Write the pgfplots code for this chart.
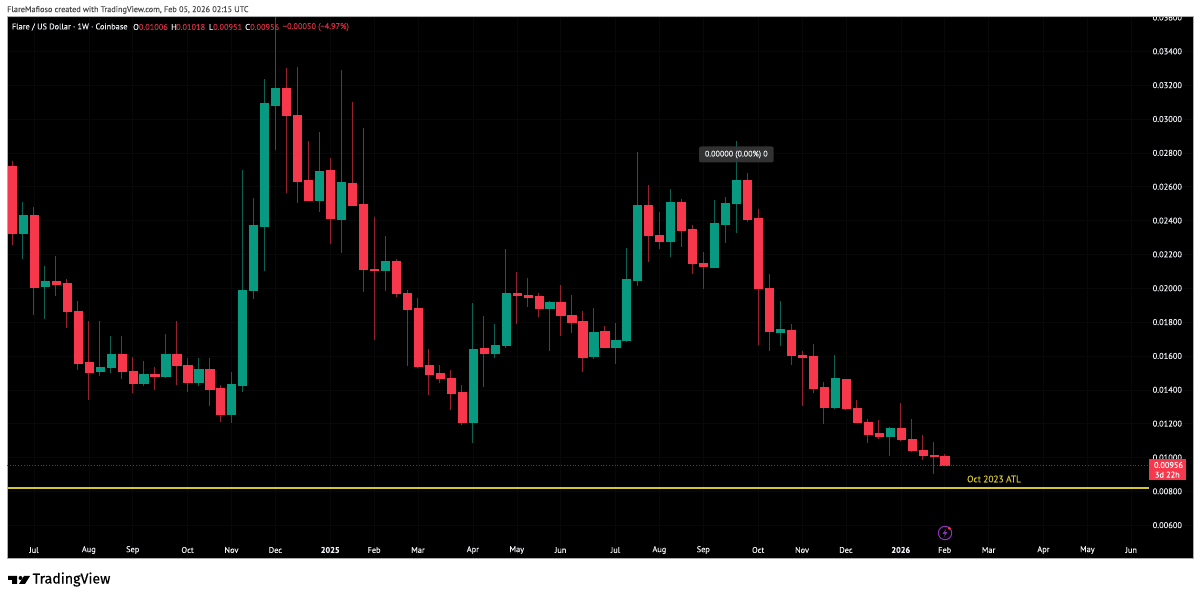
\documentclass[border=0pt]{standalone}
\usepackage{fontspec}
\setmainfont[FakeBold=0.15]{PT Sans}
\newfontfamily\tvf[FakeBold=0.4]{Fira Sans}
\usepackage{pgfplots}
\usepackage{pgfplotstable}
\usepgfplotslibrary{statistics}
\pgfplotsset{compat=1.18}
\definecolor{cup}{HTML}{089981}
\definecolor{cdn}{HTML}{F7374C}
\definecolor{wup}{HTML}{0A6255}
\definecolor{wdn}{HTML}{96222F}
\definecolor{atl}{HTML}{D6C62C}
\definecolor{lbl}{HTML}{EEF0F4}
\definecolor{icon}{HTML}{8E2FBF}
\pgfplotstableread{
i o h l c
0 0.02719 0.02752 0.02254 0.02325
2 0.02433 0.02482 0.01844 0.02009
4 0.02041 0.02189 0.01956 0.02027
5 0.02030 0.02053 0.01767 0.01866
6 0.01866 0.01925 0.01519 0.01560
7 0.01564 0.01808 0.01342 0.01504
10 0.01610 0.01720 0.01462 0.01509
11 0.01509 0.01596 0.01381 0.01439
13 0.01492 0.01537 0.01399 0.01483
15 0.01610 0.01805 0.01427 0.01547
16 0.01548 0.01588 0.01389 0.01448
18 0.01525 0.01586 0.01306 0.01407
19 0.01409 0.01428 0.01212 0.01257
25 0.03182 0.03300 0.02561 0.03026
26 0.03024 0.03308 0.02502 0.02634
27 0.02636 0.02872 0.02518 0.02520
29 0.02697 0.02772 0.02262 0.02417
31 0.02621 0.03099 0.02491 0.02491
32 0.02496 0.02947 0.01978 0.02114
33 0.02114 0.02423 0.01694 0.02109
35 0.02161 0.02173 0.01950 0.01970
36 0.01970 0.01988 0.01541 0.01879
37 0.01882 0.01944 0.01529 0.01543
38 0.01548 0.01641 0.01371 0.01495
39 0.01498 0.01548 0.01442 0.01466
40 0.01468 0.01517 0.01279 0.01383
41 0.01385 0.01428 0.01194 0.01210
43 0.01645 0.01836 0.01415 0.01619
46 0.01972 0.02096 0.01787 0.01959
47 0.01960 0.02059 0.01888 0.01950
48 0.01954 0.01972 0.01832 0.01885
50 0.01917 0.02019 0.01720 0.01838
51 0.01840 0.01960 0.01738 0.01799
52 0.01805 0.01864 0.01507 0.01594
54 0.01746 0.01777 0.01651 0.01651
58 0.02492 0.02612 0.02157 0.02313
59 0.02313 0.02451 0.02232 0.02280
61 0.02512 0.02528 0.02244 0.02346
62 0.02349 0.02372 0.02083 0.02149
63 0.02149 0.02215 0.01998 0.02128
67 0.02636 0.02683 0.02394 0.02411
68 0.02417 0.02469 0.01663 0.02002
69 0.02002 0.02084 0.01631 0.01746
71 0.01754 0.01789 0.01548 0.01602
72 0.01604 0.01628 0.01303 0.01594
73 0.01600 0.01669 0.01383 0.01411
74 0.01417 0.01448 0.01198 0.01300
76 0.01462 0.01464 0.01279 0.01294
77 0.01293 0.01340 0.01204 0.01210
78 0.01212 0.01228 0.01084 0.01139
79 0.01141 0.01220 0.01108 0.01129
81 0.01176 0.01320 0.01099 0.01108
82 0.01109 0.01226 0.01038 0.01040
83 0.01044 0.01133 0.00983 0.01015
84 0.01013 0.01092 0.00902 0.01005
85 0.01006 0.01018 0.00951 0.00956
}\reddata
\pgfplotstableread{
i o h l c
1 0.02329 0.02512 0.02173 0.02433
3 0.02012 0.02132 0.01820 0.02041
8 0.01507 0.01808 0.01483 0.01537
9 0.01537 0.01720 0.01501 0.01613
12 0.01442 0.01570 0.01423 0.01495
14 0.01483 0.01730 0.01470 0.01610
17 0.01448 0.01588 0.01424 0.01525
20 0.01255 0.01504 0.01202 0.01433
21 0.01430 0.02699 0.01389 0.01990
22 0.01986 0.02534 0.01937 0.02372
23 0.02370 0.03237 0.02104 0.03093
24 0.03083 0.03620 0.02817 0.03185
28 0.02522 0.02920 0.02451 0.02693
30 0.02411 0.03288 0.02210 0.02626
34 0.02108 0.02309 0.01984 0.02161
42 0.01210 0.01913 0.01086 0.01641
44 0.01619 0.01787 0.01588 0.01665
45 0.01667 0.02230 0.01649 0.01972
49 0.01884 0.01925 0.01629 0.01919
53 0.01596 0.01884 0.01582 0.01742
55 0.01651 0.01795 0.01551 0.01696
56 0.01694 0.02236 0.01684 0.02053
57 0.02051 0.02804 0.02015 0.02488
60 0.02280 0.02589 0.02183 0.02512
64 0.02126 0.02524 0.02126 0.02384
65 0.02380 0.02540 0.02268 0.02504
66 0.02502 0.02871 0.02327 0.02636
70 0.01743 0.01925 0.01659 0.01759
75 0.01300 0.01606 0.01288 0.01468
80 0.01127 0.01178 0.01009 0.01176
}\greendata
\pgfplotsset{
  candle/.style n args={2}{
    forget plot, solid, mark=none,
    boxplot/draw direction=y,
    boxplot/box extend=0.747, boxplot/whisker extend=0,
    boxplot/every box/.style={draw=#1, fill=#1, line width=0.2pt},
    boxplot/every whisker/.style={draw=#2, line width=1pt},
    boxplot/every median/.style={draw=none},
  },
}
% one candle per table row: the axis runs in US cents (price times 100);
% whiskers are the wicks, the box the body
\newcommand\drawcandles[4]{% table, last row, body colour, wick colour
  \pgfplotsforeachungrouped \k in {0,...,#2}{%
    \pgfplotstablegetelem{\k}{i}\of#1\let\ci\pgfplotsretval
    \pgfplotstablegetelem{\k}{o}\of#1\let\co\pgfplotsretval
    \pgfplotstablegetelem{\k}{h}\of#1\let\ch\pgfplotsretval
    \pgfplotstablegetelem{\k}{l}\of#1\let\cl\pgfplotsretval
    \pgfplotstablegetelem{\k}{c}\of#1\let\cc\pgfplotsretval
    \pgfmathsetmacro\qlo{100*min(\co,\cc)}%
    \pgfmathsetmacro\qhi{100*max(\co,\cc)}%
    \pgfmathsetmacro\ch{100*\ch}%
    \pgfmathsetmacro\cl{100*\cl}%
    \edef\tmp{\noexpand\addplot[candle={#3}{#4},
      boxplot prepared={draw position=\ci, lower whisker=\cl, lower quartile=\qlo,
        median=\qlo, upper quartile=\qhi, upper whisker=\ch}] coordinates {};}%
    \tmp
  }%
}
\begin{document}
\begin{tikzpicture}[x=1pt,y=1pt]
\path[use as bounding box, fill=white] (0,0) rectangle (1200,599);
\begin{axis}[
  at={(7pt,40pt)}, anchor=south west,
  scale only axis, width=1186pt, height=542pt,
  xmin=-0.456, xmax=107.63,
  ymin=0.40, ymax=3.603,
  axis background/.style={fill=black},
  axis line style={draw=black!32, line width=1pt},
  major tick length=0pt,
  grid=major, grid style={color=black!97!white, line width=0.5pt},
  ytick={0.6,0.8,1.0,1.2,1.4,1.6,1.8,2.0,2.2,2.4,2.6,2.8,3.0,3.2,3.4,3.6},
  yticklabels={0.00600,0.00800,0.01000,0.01200,0.01400,0.01600,0.01800,0.02000,0.02200,0.02400,0.02600,0.02800,0.03000,0.03200,0.03400,0.03600},
  yticklabel pos=right,
  yticklabel style={anchor=east, xshift=-7.5pt, text=lbl, font=\fontsize{8.4}{10}\selectfont},
  xtick={2,7,11,16,20,24,29,33,37,42,46,50,55,59,63,68,72,76,81,85,89,94,98,102},
  xticklabels={Jul,Aug,Sep,Oct,Nov,Dec,{\textbf{2025}},Feb,Mar,Apr,May,Jun,Jul,Aug,Sep,Oct,Nov,Dec,{\textbf{2026}},Feb,Mar,Apr,May,Jun},
  xticklabel style={anchor=center, yshift=9pt, text=lbl, font=\fontsize{8.3}{10}\selectfont},
  clip=true,
]
\drawcandles{\reddata}{55}{cdn}{wdn}
\drawcandles{\greendata}{29}{cup}{wup}
\addplot[color=atl, line width=1.8pt, forget plot] coordinates {(-0.456,0.821) (103.6,0.821)};
\addplot[color=wdn, line width=0.8pt, dotted, forget plot] coordinates {(-0.456,0.956) (103.6,0.956)};
\end{axis}
% cover the part of the top tick label that stands above the frame
\fill[white] (0,583) rectangle (1200,599);
\draw[black!32, line width=1pt] (7,582) -- (1193,582);
% header
\node[anchor=west, inner sep=0, text=black!70, font=\fontsize{8.25}{10}\selectfont] at (7,589) {FlareMafioso created with TradingView.com, Feb 05, 2026 02:15 UTC};
% legend row
\begin{scope}[every node/.style={anchor=west, inner sep=0, font=\fontsize{8.3}{10}\selectfont}]
\node[text=lbl] at (11.7,572) {Flare / US Dollar · 1W · Coinbase};
\node[text=lbl] at (133,572) {O};
\node[text=cdn!85!black] at (138.7,572) {0.01006};
\node[text=lbl] at (171,572) {H};
\node[text=cdn!85!black] at (176,572) {0.01018};
\node[text=lbl] at (208.7,572) {L};
\node[text=cdn!85!black] at (213,572) {0.00951};
\node[text=lbl] at (245,572) {C};
\node[text=cdn!85!black] at (250,572) {0.00956};
\node[text=cdn!85!black] at (282.7,572) {−0.00050 (−4.97\%)};
\end{scope}
% tooltip
\fill[fill=black!78!white, opacity=0.9, rounded corners=2pt] (699,436.5) rectangle (773.7,452.5);
\node[text=lbl, inner sep=0, font=\fontsize{8.1}{10}\selectfont] at (736.3,444.5) {0.00000 (0.00\%) 0};
% ATL label
\node[text=atl, inner sep=0, font=\fontsize{9.3}{10}\selectfont] at (994,120) {Oct 2023 ATL};
% price label
\fill[cdn] (1149.3,119) rectangle (1186,139.5);
\node[text=white, inner sep=0, font=\fontsize{8.3}{10}\selectfont] at (1168.5,134) {0.00956};
\node[anchor=west, text=white, inner sep=0, font=\fontsize{8.3}{10}\selectfont] at (1154.7,124.3) {3d 22h};
% news icon
\draw[color=icon, line width=1pt] (945,66) circle (6.7);
\fill[color=icon] (946.2,70.3) -- (942.6,65.2) -- (945,65.2) -- (943.8,61.7) -- (947.4,66.8) -- (945,66.8) -- cycle;
\fill[color=cdn] (949.3,70.7) circle (1.6);
% TradingView logo
\fill[black] (8,23) -- (8,19) -- (12,19) -- (12,15) -- (17,15) -- (17,23) -- cycle; % T
\fill[black] (20.5,21) circle (2);
\fill[black] (24,23) -- (30,23) -- (25,15) -- (19,15) -- cycle;
\node[anchor=west, inner sep=0, text=black, font=\tvf\fontsize{14.2}{17}\selectfont] at (32.5,19.5) {TradingView};
\end{tikzpicture}
\end{document}
